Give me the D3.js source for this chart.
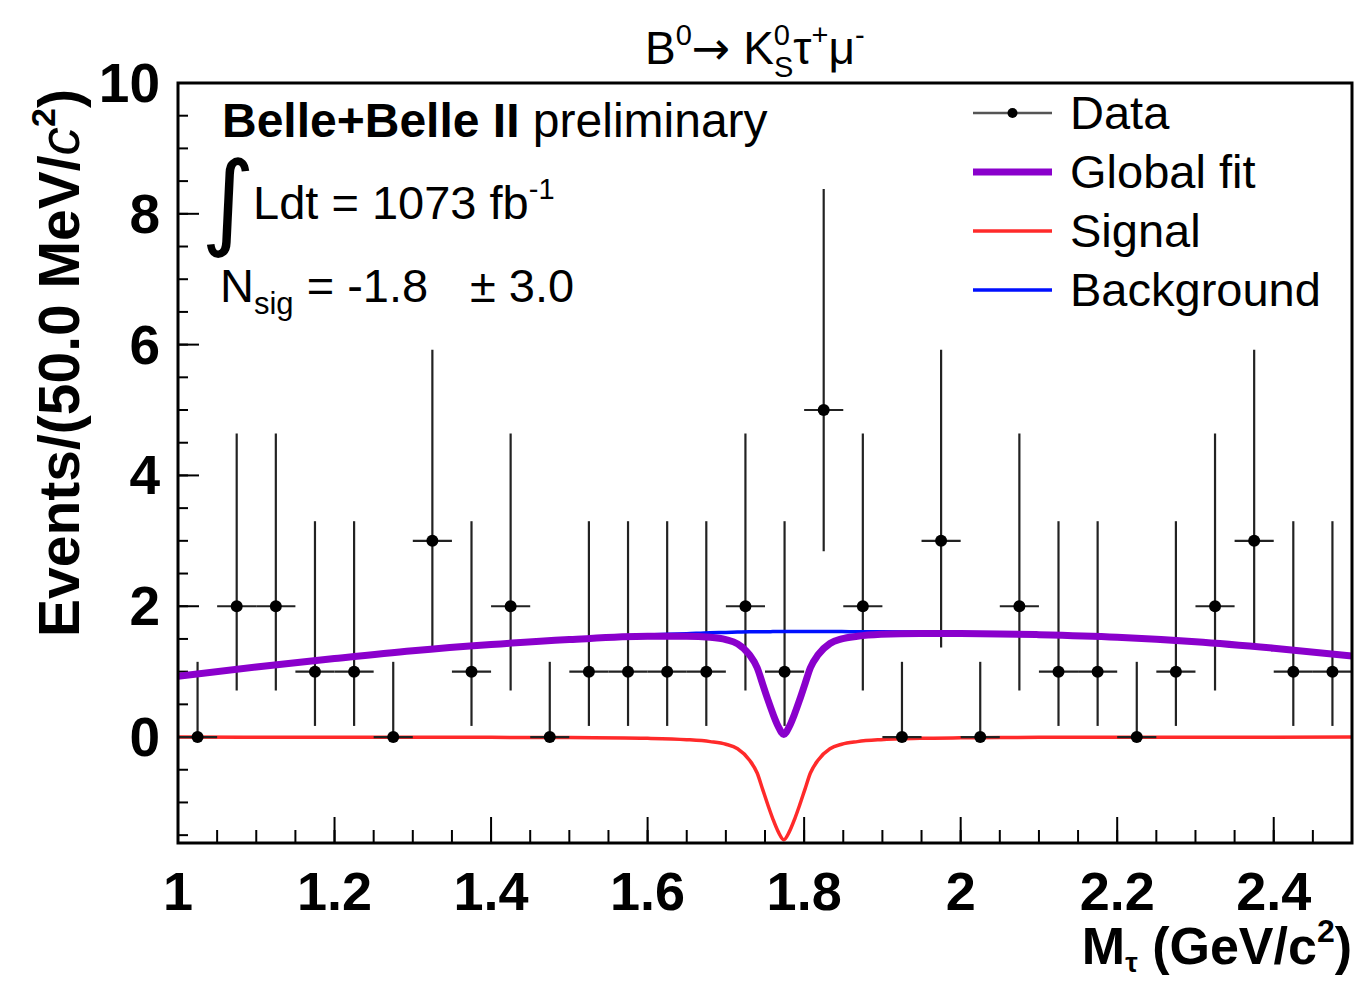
<!DOCTYPE html>
<html>
<head>
<meta charset="utf-8">
<script src="https://cdn.jsdelivr.net/npm/d3@7"></script>
<style>
  body { margin: 0; background: #fff; }
  svg { display: block; font-family: "Liberation Sans", Arial, Helvetica, sans-serif; }
</style>
</head>
<body>
<div id="chart"></div>
<script>
const width = 1358;
const height = 982;

const margin = {
    left: 178,
    right: 6,
    top: 83,
    bottom: 139
}

// binned data (50 MeV bins)
const binCenters = [1.025, 1.075, 1.125, 1.175, 1.225, 1.275, 1.325, 1.375, 1.425, 1.475,
                    1.525, 1.575, 1.625, 1.675, 1.725, 1.775, 1.825, 1.875, 1.925, 1.975,
                    2.025, 2.075, 2.125, 2.175, 2.225, 2.275, 2.325, 2.375, 2.425, 2.475];
const counts = [0, 2, 2, 1, 1, 0, 3, 1, 2, 0,
                1, 1, 1, 1, 2, 1, 5, 2, 0, 3,
                0, 2, 1, 1, 0, 1, 2, 3, 1, 1];
const errLow = [0, 1.29, 1.29, 0.83, 0.83, 0, 1.63, 0.83, 1.29, 0,
                0.83, 0.83, 0.83, 0.83, 1.29, 0.83, 2.16, 1.29, 0, 1.63,
                0, 1.29, 0.83, 0.83, 0, 0.83, 1.29, 1.63, 0.83, 0.83];
const errHigh = [1.15, 2.64, 2.64, 2.30, 2.30, 1.15, 2.92, 2.30, 2.64, 1.15,
                 2.30, 2.30, 2.30, 2.30, 2.64, 2.30, 3.38, 2.64, 1.15, 2.92,
                 1.15, 2.64, 2.30, 2.30, 1.15, 2.30, 2.64, 2.92, 2.30, 2.30];
const binHalfWidth = 0.025;

// fit curves
const curveX = [1.0, 1.1, 1.2, 1.3, 1.4, 1.5, 1.6, 1.65, 1.68, 1.70, 1.715, 1.73, 1.74, 1.747,
                1.754, 1.760, 1.767, 1.774, 1.781, 1.788, 1.794, 1.801, 1.808, 1.818, 1.833,
                1.848, 1.868, 1.898, 1.948, 2.0, 2.05, 2.1, 2.2, 2.3, 2.4, 2.5];
const background = [0.93, 1.07, 1.20, 1.32, 1.42, 1.50, 1.56, 1.58, 1.595, 1.60, 1.605, 1.61, 1.61, 1.61,
                    1.61, 1.612, 1.612, 1.612, 1.612, 1.612, 1.612, 1.612, 1.612, 1.612, 1.612,
                    1.612, 1.61, 1.61, 1.605, 1.595, 1.585, 1.57, 1.53, 1.46, 1.36, 1.24];
const signal = [-0.001, -0.002, -0.002, -0.003, -0.005, -0.008, -0.02, -0.04, -0.07, -0.11, -0.18, -0.35, -0.55, -0.8,
                -1.05, -1.25, -1.45, -1.57, -1.45, -1.25, -1.05, -0.8, -0.55, -0.35, -0.18,
                -0.11, -0.07, -0.04, -0.02, -0.012, -0.008, -0.005, -0.003, -0.002, -0.002, -0.001];
const globalFit = [0.93, 1.07, 1.20, 1.32, 1.415, 1.49, 1.54, 1.54, 1.525, 1.49, 1.425, 1.26, 1.06, 0.81,
                   0.56, 0.36, 0.16, 0.04, 0.16, 0.36, 0.56, 0.81, 1.06, 1.26, 1.43,
                   1.50, 1.54, 1.57, 1.585, 1.583, 1.577, 1.565, 1.527, 1.458, 1.358, 1.239];

const xTicks = [1, 1.2, 1.4, 1.6, 1.8, 2, 2.2, 2.4];
const yTicks = [0, 2, 4, 6, 8, 10];

const legendItems = ["Data", "Global fit", "Signal", "Background"];

const purple = '#8a00cc';
const red = '#ff2a2a';
const blue = '#0010ff';

let svg = d3.select("#chart")
    .append("svg")
    .attr("width", width)
    .attr("height", height);

let x = d3.scaleLinear()
    .domain([1, 2.5])
    .range([margin.left, width - margin.right]);

let y = d3.scaleLinear()
    .domain([-1.62, 10])
    .range([height - margin.bottom, margin.top]);

const x0 = margin.left, x1 = width - margin.right;
const y0 = height - margin.bottom, y1 = margin.top;

// ticks (ROOT style: inside, left and bottom only)
let minorX = d3.range(1, 2.5001, 0.05);
svg.selectAll(".xminor")
    .data(minorX).join("line")
    .attr("x1", d => x(d)).attr("x2", d => x(d))
    .attr("y1", y0).attr("y2", y0 - 13)
    .attr("stroke", "#000").attr("stroke-width", 2);
svg.selectAll(".xmajor")
    .data(xTicks).join("line")
    .attr("x1", d => x(d)).attr("x2", d => x(d))
    .attr("y1", y0).attr("y2", y0 - 26)
    .attr("stroke", "#000").attr("stroke-width", 2);

let minorY = d3.range(-1.5, 10, 0.5);
svg.selectAll(".yminor")
    .data(minorY).join("line")
    .attr("x1", x0).attr("x2", x0 + 10)
    .attr("y1", d => y(d)).attr("y2", d => y(d))
    .attr("stroke", "#000").attr("stroke-width", 2);
svg.selectAll(".ymajor")
    .data(yTicks).join("line")
    .attr("x1", x0).attr("x2", x0 + 21)
    .attr("y1", d => y(d)).attr("y2", d => y(d))
    .attr("stroke", "#000").attr("stroke-width", 2);

// tick labels
svg.selectAll(".xlabel")
    .data(xTicks).join("text")
    .attr("x", d => x(d))
    .attr("y", 910)
    .attr("text-anchor", "middle")
    .style("font-size", "54px")
    .style("font-weight", "bold")
    .text(d => d3.format("")(d));

svg.selectAll(".ylabel")
    .data(yTicks).join("text")
    .attr("x", 160)
    .attr("y", d => y(d) + 19)
    .attr("text-anchor", "end")
    .style("font-size", "55px")
    .style("font-weight", "bold")
    .text(d => d);

// axis titles
let xt = svg.append("text")
    .attr("x", x1)
    .attr("y", 964)
    .attr("text-anchor", "end")
    .style("font-size", "52px")
    .style("font-weight", "bold");
xt.append("tspan").text("M");
xt.append("tspan").attr("dy", 8).style("font-size", "28px").text("τ");
xt.append("tspan").attr("dy", -8).text(" (GeV/c");
xt.append("tspan").attr("dy", -22).style("font-size", "32px").text("2");
xt.append("tspan").attr("dy", 22).text(")");

let yt = svg.append("text")
    .attr("transform", "translate(79," + (y1 + 6) + ") rotate(-90)")
    .attr("text-anchor", "end")
    .style("font-size", "57px")
    .style("font-weight", "bold");
yt.append("tspan").text("Events/(50.0 MeV/");
yt.append("tspan").style("font-style", "italic").style("font-weight", "normal").text("c");
yt.append("tspan").attr("dy", -24).style("font-size", "34px").text("2");
yt.append("tspan").attr("dy", 24).text(")");

// clip region for curves
svg.append("clipPath").attr("id", "plotclip")
    .append("rect")
    .attr("x", x0).attr("y", y1)
    .attr("width", x1 - x0).attr("height", y0 - y1);

let plot = svg.append("g").attr("clip-path", "url(#plotclip)");

let line = d3.line()
    .x(d => x(d[0]))
    .y(d => y(d[1]))
    .curve(d3.curveMonotoneX);

// signal
plot.append("path")
    .attr("d", line(curveX.map((v, i) => [v, signal[i]])))
    .attr("fill", "none").attr("stroke", red).attr("stroke-width", 3.5);

// data points
let pts = binCenters.map((c, i) => ({c: c, n: counts[i], lo: errLow[i], hi: errHigh[i]}));
let dg = plot.append("g");
dg.selectAll(".ebx")
    .data(pts).join("line")
    .attr("x1", d => x(d.c - binHalfWidth)).attr("x2", d => x(d.c + binHalfWidth))
    .attr("y1", d => y(d.n)).attr("y2", d => y(d.n))
    .attr("stroke", "#222").attr("stroke-width", 2.2);
dg.selectAll(".eby")
    .data(pts).join("line")
    .attr("x1", d => x(d.c)).attr("x2", d => x(d.c))
    .attr("y1", d => y(d.n - d.lo)).attr("y2", d => y(d.n + d.hi))
    .attr("stroke", "#222").attr("stroke-width", 2.2);
dg.selectAll(".dot")
    .data(pts).join("circle")
    .attr("cx", d => x(d.c)).attr("cy", d => y(d.n))
    .attr("r", 6)
    .attr("fill", "#000");

// background and global fit
plot.append("path")
    .attr("d", line(curveX.map((v, i) => [v, background[i]])))
    .attr("fill", "none").attr("stroke", blue).attr("stroke-width", 3.5);
plot.append("path")
    .attr("d", line(curveX.map((v, i) => [v, globalFit[i]])))
    .attr("fill", "none").attr("stroke", purple).attr("stroke-width", 7);

// frame
svg.append("rect")
    .attr("x", x0).attr("y", y1)
    .attr("width", x1 - x0).attr("height", y0 - y1)
    .attr("fill", "none").attr("stroke", "#000").attr("stroke-width", 3);

// title
let title = svg.append("text")
    .attr("x", 645).attr("y", 64)
    .style("font-size", "46px");
title.append("tspan").text("B");
title.append("tspan").attr("dy", -19).style("font-size", "29px").text("0");
title.append("tspan").attr("dy", 19).style("font-family", "'DejaVu Sans'").style("font-size", "46px").text("→");
title.append("tspan").text(" K");
title.append("tspan").attr("dy", -19).style("font-size", "29px").text("0");
title.append("tspan").attr("dx", -16).attr("dy", 32).style("font-size", "29px").text("S");
title.append("tspan").attr("dy", -13).text("τ");
title.append("tspan").attr("dy", -19).style("font-size", "29px").text("+");
title.append("tspan").attr("dy", 19).text("μ");
title.append("tspan").attr("dy", -19).style("font-size", "29px").text("-");

// annotations
let t1 = svg.append("text")
    .attr("x", 222).attr("y", 137)
    .style("font-size", "48px");
t1.append("tspan").style("font-weight", "bold").text("Belle+Belle II");
t1.append("tspan").text(" preliminary");

svg.append("text")
    .attr("x", 201).attr("y", 236)
    .style("font-size", "104px")
    .style("font-family", "'DejaVu Sans'")
    .text("∫");

let t2 = svg.append("text")
    .attr("x", 253).attr("y", 219)
    .style("font-size", "47px");
t2.append("tspan").text("Ldt = 1073 fb");
t2.append("tspan").attr("dy", -20).style("font-size", "29px").text("-1");

let t3 = svg.append("text")
    .attr("x", 220).attr("y", 302)
    .style("font-size", "47px");
t3.append("tspan").text("N");
t3.append("tspan").attr("dy", 12).style("font-size", "31px").text("sig");
t3.append("tspan").attr("dy", -12).text(" = -1.8");
t3.append("tspan").attr("x", 470).text("± 3.0");

// legend
let lg = svg.append("g");
const legY = [113, 172, 231, 290];
const legX0 = 973, legX1 = 1052;
legendItems.forEach((name, i) => {
    let yy = legY[i];
    if (i === 0) {
        lg.append("line").attr("x1", legX0).attr("x2", legX1).attr("y1", yy).attr("y2", yy)
            .attr("stroke", "#555").attr("stroke-width", 2.5);
        lg.append("circle").attr("cx", (legX0 + legX1) / 2).attr("cy", yy).attr("r", 5).attr("fill", "#000");
    } else {
        const col = [null, purple, red, blue][i];
        const w = [0, 7, 3.5, 3.5][i];
        lg.append("line").attr("x1", legX0).attr("x2", legX1).attr("y1", yy).attr("y2", yy)
            .attr("stroke", col).attr("stroke-width", w);
    }
    lg.append("text")
        .attr("x", 1070).attr("y", yy + 16)
        .style("font-size", "47px")
        .text(name);
});
</script>
</body>
</html>
